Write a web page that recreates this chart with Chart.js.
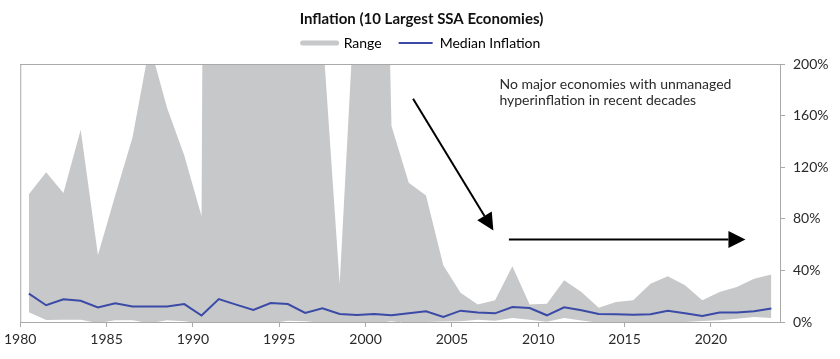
<!DOCTYPE html>
<html><head><meta charset="utf-8">
<script src="https://cdn.jsdelivr.net/npm/chart.js@4/dist/chart.umd.min.js"></script>
<style>html,body{margin:0;padding:0;background:#fff}</style>
</head><body>
<canvas id="c" width="840" height="359"></canvas>
<script>
// ---- data ----
const years = [1980,1981,1982,1983,1984,1985,1986,1987,1988,1989,1990,1991,1992,1993,1994,1995,1996,1997,1998,1999,2000,2001,2002,2003,2004,2005,2006,2007,2008,2009,2010,2011,2012,2013,2014,2015,2016,2017,2018,2019,2020,2021,2022,2023];
const rangeHigh = [99,116,100,149,52,98,143,215,166,129,82,2700,4000,1900,8000,400,600,226,29.5,282,750,152,108,98,44,22.7,13.5,16.8,43.3,13.5,14.2,32.3,23.2,11.1,15.5,16.8,29.7,35.4,28.4,16.8,23.2,27.1,33.6,36.9];
const rangeLow = [7.5,1.5,1.8,1.8,-0.8,1.3,1.3,-1,1.4,0.5,-1,-1,-1,-0.5,-1,1,0.5,-0.5,-1,-1,-1,0.5,-1,0,0.3,0.5,1.8,1.0,3.1,1.8,0.2,3.1,1.1,-0.5,-0.8,-0.5,-0.5,-0.5,0,0.8,1.3,2.6,3.9,3.1];
const medianInflation = [22,13,17.6,16.4,11.3,14.5,12.1,12.1,12.1,13.9,5,17.8,13.5,9.3,14.7,13.9,7,10.6,6.2,5.4,6.2,5.2,6.7,8.3,3.9,8.8,7.3,6.7,11.6,10.8,5.2,11.4,9.1,6.2,6.0,5.7,6.0,8.8,6.7,4.6,7.3,7.3,8.3,10.4];
const seriesNames = ['Range', 'Median Inflation'];
const chartTitle = 'Inflation (10 Largest SSA Economies)';
const noteLines = ['No major economies with unmanaged', 'hyperinflation in recent decades'];

// annual values are plotted at mid-year
const pts = arr => arr.map((v, i) => ({ x: years[i] + 0.5, y: v }));

// ---- styles ----
const GRAY = '#c7c8ca';
const BLUE = '#3a4aa6';
const AXIS = '#a9a9a9';
const TEXT = '#2a2a2a';
const FONT = 'Lato, "Open Sans", sans-serif';

// annotation anchors in data units (year, %)
const note = { x: 2007.75, y: 184 };
const arrowDiag = { from: [2002.75, 173], to: [2007.4, 71] };
const arrowHoriz = { from: [2008.3, 64], to: [2022.0, 64] };

const frame = {
  id: 'frame',
  afterDatasetsDraw(chart) {
    const { ctx, chartArea: a } = chart;
    ctx.save();
    ctx.strokeStyle = AXIS; ctx.lineWidth = 1;
    ctx.beginPath();
    ctx.moveTo(a.left + 0.5, a.bottom);
    ctx.lineTo(a.left + 0.5, a.top + 0.5);
    ctx.lineTo(a.right, a.top + 0.5);
    ctx.stroke();
    ctx.restore();
  }
};

function arrow(ctx, x1, y1, x2, y2) {
  const ang = Math.atan2(y2 - y1, x2 - x1);
  const L = 17, W = 8.5;
  const bx = x2 - L * Math.cos(ang), by = y2 - L * Math.sin(ang);
  ctx.beginPath(); ctx.moveTo(x1, y1); ctx.lineTo(bx, by); ctx.stroke();
  ctx.beginPath();
  ctx.moveTo(x2, y2);
  ctx.lineTo(bx + W * Math.sin(ang), by - W * Math.cos(ang));
  ctx.lineTo(bx - W * Math.sin(ang), by + W * Math.cos(ang));
  ctx.closePath(); ctx.fill();
}

const annotations = {
  id: 'annotations',
  afterDatasetsDraw(chart) {
    const { ctx, scales: { x, y } } = chart;
    ctx.save();
    ctx.fillStyle = TEXT; ctx.strokeStyle = '#000'; ctx.lineWidth = 2;
    ctx.font = '14px ' + FONT;
    ctx.textAlign = 'left'; ctx.textBaseline = 'middle';
    const tx = x.getPixelForValue(note.x), ty = y.getPixelForValue(note.y);
    noteLines.forEach((t, i) => ctx.fillText(t, tx, ty + i * 16));
    ctx.fillStyle = '#000';
    for (const a of [arrowDiag, arrowHoriz]) {
      arrow(ctx, x.getPixelForValue(a.from[0]), y.getPixelForValue(a.from[1]),
                 x.getPixelForValue(a.to[0]), y.getPixelForValue(a.to[1]));
    }
    ctx.restore();
  }
};

new Chart(document.getElementById('c'), {
  type: 'line',
  data: {
    datasets: [
      { label: seriesNames[0], data: pts(rangeHigh), fill: '+1', backgroundColor: GRAY,
        borderWidth: 0, borderColor: GRAY, pointRadius: 0, order: 3 },
      { label: 'low', data: pts(rangeLow), fill: false, borderWidth: 0,
        borderColor: GRAY, pointRadius: 0, order: 2 },
      { label: seriesNames[1], data: pts(medianInflation), fill: false, borderColor: BLUE,
        borderWidth: 2, pointRadius: 0, order: 1 }
    ]
  },
  options: {
    responsive: false,
    animation: false,
    layout: { padding: { left: 3, right: 0, top: 0, bottom: 0 } },
    plugins: {
      tooltip: { enabled: false },
      title: { display: true, text: chartTitle, color: '#111',
        font: { family: FONT, size: 15, weight: 'bold' }, padding: { top: 10, bottom: -9 } },
      legend: {
        display: true,
        labels: {
          color: TEXT, font: { family: FONT, size: 14 }, boxWidth: 34, boxHeight: 14, padding: 17,
          usePointStyle: true, pointStyleWidth: 34,
          generateLabels: () => [
            { text: seriesNames[0], pointStyle: 'line', strokeStyle: GRAY, fillStyle: GRAY,
              lineWidth: 5, lineCap: 'round', datasetIndex: 0 },
            { text: seriesNames[1], pointStyle: 'line', strokeStyle: BLUE, fillStyle: BLUE,
              lineWidth: 2, lineCap: 'butt', datasetIndex: 2 }
          ]
        }
      }
    },
    scales: {
      x: {
        type: 'linear', min: 1980, max: 2024,
        border: { display: true, color: AXIS },
        grid: { display: true, drawOnChartArea: false, drawTicks: true, tickLength: 5, color: AXIS },
        ticks: { stepSize: 5, includeBounds: false, color: TEXT, padding: 4, maxRotation: 0,
          font: { family: FONT, size: 14 }, callback: v => String(v) },
        afterFit: s => { s.height = 37; }
      },
      xTop: {
        type: 'linear', position: 'top', min: 1980, max: 2024,
        border: { display: true, color: AXIS },
        grid: { display: false }, ticks: { display: false },
        afterFit: s => { s.height = 4; }
      },
      y: {
        position: 'right', min: 0, max: 200,
        border: { display: true, color: AXIS },
        grid: { display: true, drawOnChartArea: false, drawTicks: true, tickLength: 5, color: AXIS },
        ticks: { stepSize: 40, color: TEXT, padding: 8, font: { family: FONT, size: 14 },
          callback: v => v + '%' },
        afterFit: s => { s.width = 60; }
      }
    }
  },
  plugins: [frame, annotations]
});
</script>
</body></html>
